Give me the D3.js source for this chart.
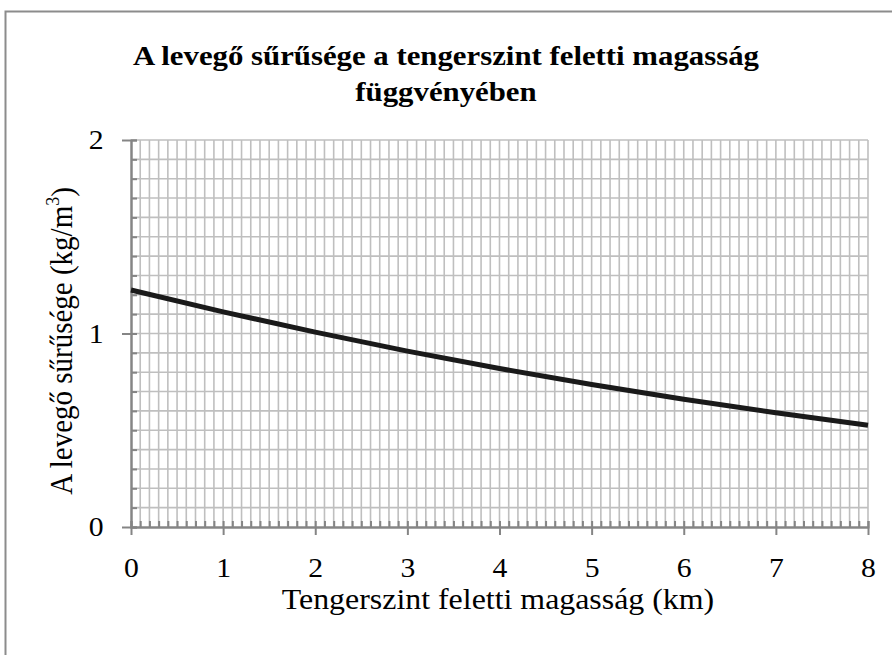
<!DOCTYPE html>
<html>
<head>
<meta charset="utf-8">
<script src="https://cdn.jsdelivr.net/npm/d3@7"></script>
<style>
  body { margin: 0; background: #fff; }
  svg { display: block; }
</style>
</head>
<body>
<svg id="root"></svg>
<script>
// data (standard atmosphere)
const altitude = [0, 1, 2, 3, 4, 5, 6, 7, 8];
const density = [1.225, 1.112, 1.007, 0.909, 0.819, 0.736, 0.66, 0.59, 0.526];
const xTicks = [0, 1, 2, 3, 4, 5, 6, 7, 8];
const yTicks = [0, 1, 2];

const width = 892,
  height = 655;
const margin = { top: 140, right: 24, bottom: 128, left: 131 };

const svg = d3.select("svg#root").attr("width", width).attr("height", height);
const font = "'Liberation Serif', 'Times New Roman', serif";
// the glyphs in the picture are a bit wider than Times
const stretch = "scale(1.1,1)";

// outer frame (runs off the right and bottom edges)
svg
  .append("rect")
  .attr("x", 5.5)
  .attr("y", 11.5)
  .attr("width", 900)
  .attr("height", 700)
  .attr("fill", "none")
  .attr("stroke", "#8c8c8c")
  .attr("stroke-width", 2);

const x = d3
  .scaleLinear()
  .domain([0, 8])
  .range([margin.left, width - margin.right]);
const y = d3
  .scaleLinear()
  .domain([0, 2])
  .range([height - margin.bottom, margin.top]);

const minorX = d3.range(0, 81).map((d) => d / 10);
const minorY = d3.range(0, 21).map((d) => d / 10);

// grid
const grid = svg.append("g").attr("stroke", "#bfbfbf").attr("stroke-width", 1.6);
grid
  .selectAll("line.v")
  .data(minorX.slice(1))
  .join("line")
  .attr("class", "v")
  .attr("x1", (d) => x(d))
  .attr("x2", (d) => x(d))
  .attr("y1", y(0))
  .attr("y2", y(2));
grid
  .selectAll("line.h")
  .data(minorY.slice(1))
  .join("line")
  .attr("class", "h")
  .attr("x1", x(0))
  .attr("x2", x(8))
  .attr("y1", (d) => y(d))
  .attr("y2", (d) => y(d));

// axes
const axisColor = "#858585";
const xAxisMinor = svg
  .append("g")
  .attr("transform", `translate(0,${y(0)})`)
  .call(d3.axisBottom(x).tickValues(minorX).tickSize(-6).tickFormat(""));
const xAxis = svg
  .append("g")
  .attr("transform", `translate(0,${y(0)})`)
  .call(d3.axisBottom(x).tickValues(xTicks).tickSize(8).tickSizeOuter(0));
const yAxisMinor = svg
  .append("g")
  .attr("transform", `translate(${x(0)},0)`)
  .call(d3.axisLeft(y).tickValues(minorY).tickSize(-6).tickFormat(""));
const yAxis = svg
  .append("g")
  .attr("transform", `translate(${x(0)},0)`)
  .call(d3.axisLeft(y).tickValues(yTicks).tickSize(9).tickPadding(16).tickSizeOuter(0).tickFormat(d3.format("d")));

[xAxisMinor, xAxis, yAxisMinor, yAxis].forEach((g) => {
  g.selectAll("path").attr("stroke", axisColor).attr("stroke-width", 2);
  g.selectAll("line").attr("stroke", axisColor).attr("stroke-width", 2);
  g.selectAll("text")
    .attr("fill", "#000")
    .attr("transform", stretch)
    .style("font-family", font)
    .style("font-size", "27px");
});
xAxis.selectAll("text").attr("y", 50).attr("dy", 0);

// curve
svg
  .append("path")
  .datum(altitude.map((a, i) => [a, density[i]]))
  .attr("fill", "none")
  .attr("stroke", "#1a1a1a")
  .attr("stroke-width", 5)
  .attr(
    "d",
    d3
      .line()
      .x((d) => x(d[0]))
      .y((d) => y(d[1]))
      .curve(d3.curveMonotoneX)
  );

// title
const title = svg
  .append("g")
  .attr("transform", `translate(446,0) ${stretch}`)
  .append("text")
  .attr("text-anchor", "middle")
  .style("font-family", font)
  .style("font-weight", "bold")
  .style("font-size", "28px")
  .attr("fill", "#000");
title.append("tspan").attr("x", 0).attr("y", 65).text("A levegő sűrűsége a tengerszint feletti magasság");
title.append("tspan").attr("x", 0).attr("y", 101).text("függvényében");

// x label
svg
  .append("text")
  .attr("transform", `translate(498,609) ${stretch}`)
  .attr("text-anchor", "middle")
  .style("font-family", font)
  .style("font-size", "29px")
  .attr("fill", "#000")
  .text("Tengerszint feletti magasság (km)");

// y label
const yl = svg
  .append("text")
  .attr("transform", `translate(72,341) ${stretch} rotate(-90)`)
  .attr("text-anchor", "middle")
  .style("font-family", font)
  .style("font-size", "29px")
  .attr("fill", "#000");
yl.append("tspan").text("A levegő sűrűsége (kg/m");
yl.append("tspan").style("font-size", "18px").attr("dy", "-0.65em").text("3");
yl.append("tspan").attr("dy", "0.42em").text(")");
</script>
</body>
</html>
